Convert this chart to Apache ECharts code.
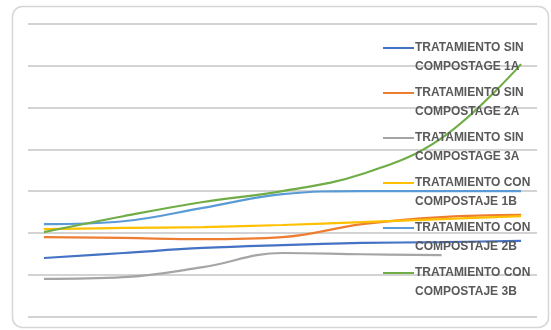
<!DOCTYPE html>
<html>
<head>
<meta charset="utf-8">
<script src="https://cdn.jsdelivr.net/npm/echarts@6/dist/echarts.min.js"></script>
<style>
html,body{margin:0;padding:0;background:#fff;}
#chart{width:551px;height:330px;}
</style>
</head>
<body>
<div id="chart"></div>
<script>
// Categories (x positions, labels not shown in the original)
var categories = ['1', '2', '3', '4', '5', '6', '7'];
// Series names
var seriesNames = [
  'TRATAMIENTO SIN\nCOMPOSTAGE 1A',
  'TRATAMIENTO SIN\nCOMPOSTAGE 2A',
  'TRATAMIENTO SIN\nCOMPOSTAGE 3A',
  'TRATAMIENTO CON\nCOMPOSTAJE 1B',
  'TRATAMIENTO CON\nCOMPOSTAJE 2B',
  'TRATAMIENTO CON\nCOMPOSTAJE 3B'
];
// Series values
var sin1A = [14.0, 15.2, 16.4, 17.1, 17.6, 17.8, 18.1];
var sin2A = [19.0, 18.8, 18.5, 19.0, 22.1, 23.8, 24.3];
var sin3A = [9.0, 9.4, 11.8, 15.2, 14.9, 14.7, null];
var con1B = [20.9, 21.2, 21.4, 21.9, 22.6, 23.3, 24.0];
var con2B = [22.1, 22.8, 26.0, 29.3, 30.0, 30.0, 30.0];
var con3B = [20.2, 24.0, 27.4, 30.0, 34.1, 42.7, 60.4];
// Y axis ticks (no labels shown)
var yTicks = [0, 10, 20, 30, 40, 50, 60, 70];

var colors = ['#4472C4', '#ED7D31', '#A5A5A5', '#FFC000', '#5B9BD5', '#70AD47'];
var allValues = [sin1A, sin2A, sin3A, con1B, con2B, con3B];

function toPairs(arr) {
  return arr.map(function (v, i) { return [i, v]; });
}

var series = allValues.map(function (vals, k) {
  return {
    name: seriesNames[k],
    type: 'line',
    data: toPairs(vals),
    smooth: 0.4,
    showSymbol: false,
    symbol: 'none',
    connectNulls: false,
    lineStyle: { color: colors[k], width: 2.2 },
    itemStyle: { color: colors[k] },
    emphasis: { disabled: true },
    z: 2
  };
});

var chart = echarts.init(document.getElementById('chart'), null, { renderer: 'canvas' });
chart.setOption({
  animation: false,
  backgroundColor: '#ffffff',
  graphic: [{
    type: 'rect',
    shape: { x: 12.5, y: 6.5, width: 536, height: 321, r: 10 },
    style: { fill: 'none', stroke: '#d6d6d6', lineWidth: 1.5 },
    z: -1,
    silent: true
  }],
  grid: { left: 28, right: 14, top: 24, bottom: 13.5, containLabel: false },
  xAxis: {
    type: 'value',
    min: -0.2,
    max: categories.length - 1 + 0.2,
    show: false
  },
  yAxis: {
    type: 'value',
    min: yTicks[0],
    max: yTicks[yTicks.length - 1],
    interval: 10,
    axisLine: { show: false },
    axisTick: { show: false },
    axisLabel: { show: false },
    splitLine: { show: true, lineStyle: { color: '#c4c4c4', width: 1.5 } }
  },
  legend: {
    orient: 'vertical',
    left: 383,
    top: 38,
    padding: 0,
    itemGap: 7,
    itemWidth: 31,
    itemHeight: 38,
    icon: 'path://M0,0L0.01,0L0.01,0.01L0,0.01Z M0,9L31,9L31,11L0,11Z M30.99,37.99L31,37.99L31,38L30.99,38Z',
    itemStyle: { borderWidth: 0 },
    selectedMode: false,
    textStyle: {
      fontFamily: 'Liberation Sans, Arial, sans-serif',
      fontSize: 12,
      fontWeight: 'bold',
      color: '#595959',
      lineHeight: 19,
      padding: [0, 0, 0, -4]
    },
    data: seriesNames
  },
  series: series
});
</script>
</body>
</html>
